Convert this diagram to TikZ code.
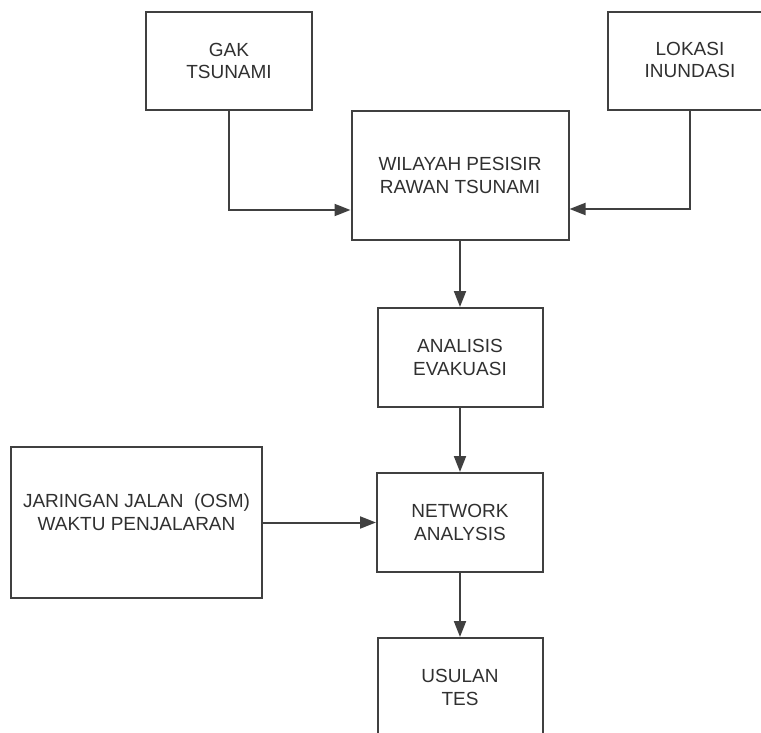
\documentclass[tikz,border=0pt]{standalone}
\usepackage{fontspec}
\setmainfont{Liberation Sans}
\usetikzlibrary{arrows.meta}
\definecolor{linegray}{HTML}{404040}
\definecolor{textgray}{HTML}{303030}
\begin{document}
\begin{tikzpicture}[x=1pt,y=-1pt,
  box/.style={draw=linegray, line width=2pt, rectangle, inner sep=0pt,
    align=center, text=textgray, font=\fontsize{19}{22.5}\selectfont},
  txt/.style={align=center, text=textgray, font=\fontsize{19}{22.5}\selectfont, inner sep=0pt},
  conn/.style={draw=linegray, line width=2pt, -{Triangle[length=16pt,width=12pt]}}]
\useasboundingbox (0,0) rectangle (761,733);
\clip (0,0) rectangle (761,733);
\node[box, minimum width=166pt, minimum height=98pt] (gak) at (229,61) {GAK\\TSUNAMI};
\node[box, minimum width=166pt, minimum height=98pt] (lok) at (691,61) {};
\node[txt] (loktxt) at (690,60) {LOKASI\\INUNDASI};
\node[box, minimum width=217pt, minimum height=129pt] (wil) at (460,175.5) {WILAYAH PESISIR\\RAWAN TSUNAMI};
\node[box, minimum width=165pt, minimum height=99pt] (ana) at (460,357.5) {ANALISIS\\EVAKUASI};
\node[box, minimum width=166pt, minimum height=99pt] (net) at (460,522.5) {NETWORK\\ANALYSIS};
\node[box, minimum width=251pt, minimum height=151pt] (jar) at (136.5,522.5) {};
\node[txt] (jartxt) at (136.5,512) {JARINGAN JALAN\ \ (OSM)\\WAKTU PENJALARAN};
\node[box, minimum width=165pt, minimum height=99pt] (usu) at (460,687.5) {USULAN\\TES};
\draw[conn] (gak.south) |- ([yshift=-34.5pt]wil.west);
\draw[conn] ([xshift=-1pt]lok.south) |- ([yshift=-33.5pt]wil.east);
\draw[conn] (wil.south) -- (ana.north);
\draw[conn] (ana.south) -- (net.north);
\draw[conn] (jar.east) -- (net.west);
\draw[conn] (net.south) -- (usu.north);
\end{tikzpicture}
\end{document}
